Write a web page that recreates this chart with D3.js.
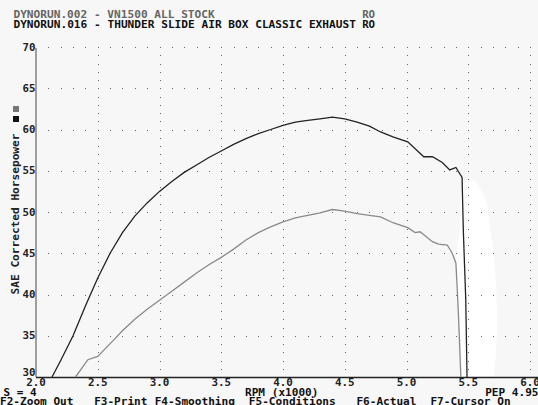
<!DOCTYPE html>
<html><head><meta charset="utf-8">
<script src="https://cdn.jsdelivr.net/npm/d3@7"></script>
<style>html,body{margin:0;padding:0;background:#f7f7f7;}svg{display:block;}</style>
</head><body>
<script>
// ---- data ----
const titleLines = ["DYNORUN.002 - VN1500 ALL STOCK", "DYNORUN.016 - THUNDER SLIDE AIR BOX CLASSIC EXHAUST"];
const runCodes = ["RO", "RO"];
const xTicks = [2.0, 2.5, 3.0, 3.5, 4.0, 4.5, 5.0, 5.5, 6.0];
const yTicks = [30, 35, 40, 45, 50, 55, 60, 65, 70];
const yLabel = "SAE Corrected Horsepower";
const xLabel = "RPM (x1000)";
const smoothing = "S = 4";
const pepLabel = "PEP 4.95";
const fkeys = ["F2-Zoom Out", "F3-Print", "F4-Smoothing", "F5-Conditions", "F6-Actual", "F7-Cursor On"];
const fkeyCols = [0, 14, 23, 37, 53, 64];

// run 016 (black)
const rpm016 = [2.13, 2.2, 2.3, 2.4, 2.5, 2.6, 2.7, 2.8, 2.9, 3.0, 3.1, 3.2, 3.3, 3.4, 3.5, 3.6, 3.7, 3.8, 3.9, 4.0, 4.1, 4.2, 4.3, 4.4, 4.5, 4.6, 4.7, 4.79, 4.89, 5.01, 5.14, 5.21, 5.29, 5.35, 5.40, 5.45, 5.46, 5.48, 5.49];
const hp016  = [30.0, 32.0, 35.0, 38.6, 42.0, 45.0, 47.5, 49.5, 51.1, 52.5, 53.7, 54.8, 55.7, 56.6, 57.4, 58.2, 58.9, 59.5, 60.0, 60.5, 60.9, 61.1, 61.3, 61.5, 61.3, 60.9, 60.4, 59.7, 59.1, 58.5, 56.7, 56.7, 56.0, 55.1, 55.4, 54.2, 47.8, 39.3, 30.0];
// run 002 (gray)
const rpm002 = [2.32, 2.42, 2.5, 2.63, 2.7, 2.8, 2.9, 3.0, 3.1, 3.2, 3.3, 3.4, 3.5, 3.6, 3.7, 3.8, 3.9, 4.0, 4.1, 4.2, 4.3, 4.4, 4.5, 4.6, 4.7, 4.79, 4.89, 5.01, 5.07, 5.11, 5.21, 5.26, 5.33, 5.37, 5.40, 5.41, 5.42, 5.44];
const hp002  = [30.0, 32.1, 32.5, 34.5, 35.6, 37.0, 38.2, 39.3, 40.4, 41.5, 42.6, 43.6, 44.5, 45.5, 46.6, 47.5, 48.2, 48.8, 49.3, 49.6, 49.9, 50.3, 50.1, 49.8, 49.6, 49.4, 48.7, 48.1, 47.5, 47.6, 46.4, 46.1, 46.0, 45.0, 43.8, 40.9, 37.8, 30.0];
// erased cursor trail (white area) in data units
const trailHp    = [53.8, 51.5, 47.8, 44.2, 39.3, 34.5, 30.0];
const trailLeft  = [5.46, 5.44, 5.43, 5.40, 5.41, 5.44, 5.45];
const trailRight = [5.56, 5.64, 5.68, 5.71, 5.73, 5.73, 5.71];

// ---- layout ----
const W = 538, H = 405;
const CW = 6.725; // character cell width
const svg = d3.select("body").append("svg").attr("width", W).attr("height", H);
svg.append("rect").attr("width", W).attr("height", H).attr("fill", "#f7f7f7");

const x = d3.scaleLinear().domain([2, 6]).range([36, 530]);
const y = d3.scaleLinear().domain([30, 70]).range([377, 47]);

const font = "'DejaVu Sans Mono', monospace";
function txt(s, px, py, col, anchor) {
  const t = svg.append("text").attr("x", px).attr("y", py)
    .attr("font-family", font).attr("font-weight", "bold").attr("font-size", 10)
    .attr("fill", col || "#111").attr("textLength", s.length * CW - 0.5)
    .attr("lengthAdjust", "spacingAndGlyphs").text(s);
  if (anchor) t.attr("text-anchor", anchor);
  return t;
}

// erased trail area
const area = d3.area().y(d => y(d[0])).x0(d => x(d[1])).x1(d => x(d[2])).curve(d3.curveCatmullRom);
svg.append("path").datum(d3.zip(trailHp, trailLeft, trailRight)).attr("d", area).attr("fill", "#ffffff");

// dot grid
const g = svg.append("g");
const rowRpm = d3.range(21, 61).map(v => v / 10);
yTicks.filter(v => v > 30).forEach(h => {
  rowRpm.forEach(r => g.append("rect").attr("x", Math.round(x(r))).attr("y", Math.round(y(h))).attr("width", 1).attr("height", 1).attr("fill", "#666"));
});
const colHp = d3.range(31, 71);
xTicks.filter(v => v > 2).forEach(r => {
  colHp.forEach(h => g.append("rect").attr("x", Math.round(x(r))).attr("y", Math.round(y(h))).attr("width", 1).attr("height", 1).attr("fill", "#666"));
});

// axes
svg.append("line").attr("x1", x(2)).attr("x2", x(2)).attr("y1", y(70) + 1).attr("y2", y(30))
  .attr("stroke", "#888").attr("stroke-width", 1.6);
svg.append("line").attr("x1", x(2)).attr("x2", W).attr("y1", y(30) + 0.5).attr("y2", y(30) + 0.5)
  .attr("stroke", "#222").attr("stroke-width", 1.5);

// y tick labels
yTicks.forEach(v => txt(String(v), 35.5, y(v) + 3.5 - (v === 30 ? 5 : 0), "#222", "end"));
// x tick labels
xTicks.forEach(v => txt(v.toFixed(1), x(v), 385.5, "#222", "middle"));

// curves
const line = d3.line().x(d => x(d[0])).y(d => y(d[1]));
svg.append("path").datum(d3.zip(rpm002, hp002)).attr("d", line)
  .attr("fill", "none").attr("stroke", "#8a8a8a").attr("stroke-width", 1.3);
svg.append("path").datum(d3.zip(rpm016, hp016)).attr("d", line)
  .attr("fill", "none").attr("stroke", "#222").attr("stroke-width", 1.3);

// titles (80-column text screen)
txt(titleLines[0], 2 * CW, 17.5, "#666");
txt(runCodes[0], 54 * CW - 1, 17.5, "#666");
txt(titleLines[1], 2 * CW, 27.5, "#111");
txt(runCodes[1], 54 * CW - 1, 27.5, "#111");

// legend squares
svg.append("rect").attr("x", 13).attr("y", 106).attr("width", 6).attr("height", 6).attr("fill", "#777");
svg.append("rect").attr("x", 13).attr("y", 116).attr("width", 6).attr("height", 6).attr("fill", "#111");

// y label
svg.append("text").attr("transform", "translate(18.5,214) rotate(-90)")
  .attr("text-anchor", "middle").attr("font-family", font).attr("font-weight", "bold").attr("font-size", 10)
  .attr("textLength", yLabel.length * CW - 0.5).attr("lengthAdjust", "spacingAndGlyphs")
  .attr("fill", "#222").text(yLabel);

// bottom texts
txt(smoothing, 3.5, 395.5);
txt(xLabel, 245, 395.5);
txt(pepLabel, 72 * CW + 1, 395.5);
fkeys.forEach((t, i) => txt(t, fkeyCols[i] * CW, 404.5));
</script>
</body></html>
